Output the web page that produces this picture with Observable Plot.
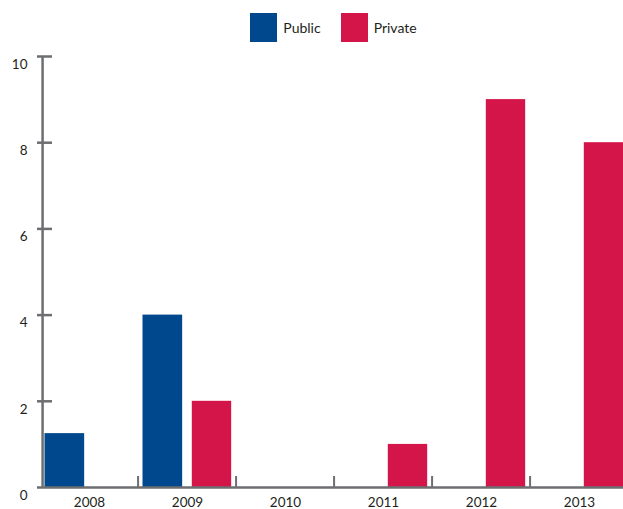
<!DOCTYPE html>
<html>
<head>
<meta charset="utf-8">
<script src="https://cdn.jsdelivr.net/npm/d3@7"></script>
<script src="https://cdn.jsdelivr.net/npm/@observablehq/plot@0.6"></script>
<style>
  html, body { margin: 0; padding: 0; background: #fff; overflow: hidden; }
  body { font-family: "Lato", "Noto Sans", sans-serif; color: #231f20; }
  #legend {
    display: flex; justify-content: center; align-items: flex-start;
    height: 48px; margin-left: 37px; width: 593px;
    box-sizing: border-box; padding-top: 13px; font-size: 14px;
  }
  .item { display: flex; align-items: center; margin: 0 10px; }
  .sw { width: 27px; height: 29px; margin-right: 6px; }
  #chart svg { max-width: none !important; display: block; }
</style>
</head>
<body>
<div id="legend"></div>
<div id="chart"></div>
<script>
// Number of institutions by year, split by type
const years = ["2008", "2009", "2010", "2011", "2012", "2013"];
const publicValues = [1.25, 4, 0, 0, 0, 0];
const privateValues = [0, 2, 0, 1, 9, 8];
const seriesNames = ["Public", "Private"];
const seriesColors = ["#00488d", "#d4154a"];
const yTicks = [0, 2, 4, 6, 8, 10];

const axisColor = "#6d6e71";
const width = 630, height = 461;
const marginLeft = 37, marginRight = 0, marginTop = 8, marginBottom = 22;
const frameW = width - marginLeft - marginRight;
const frameH = height - marginTop - marginBottom;
const step = frameW / years.length;

const rows = (values) => years.map((year, i) => ({year, value: values[i]})).filter(d => d.value > 0);
const publicRows = rows(publicValues);
const privateRows = rows(privateValues);

// legend
const legend = document.getElementById("legend");
seriesNames.forEach((name, i) => {
  const item = document.createElement("div");
  item.className = "item";
  const sw = document.createElement("div");
  sw.className = "sw";
  sw.style.background = seriesColors[i];
  const label = document.createElement("span");
  label.textContent = name;
  item.append(sw, label);
  legend.append(item);
});

const chart = Plot.plot({
  width, height, marginLeft, marginRight, marginTop, marginBottom,
  style: {fontFamily: "Lato, 'Noto Sans', sans-serif", fontSize: "13.5px", color: "#231f20", overflow: "visible", maxWidth: "none"},
  x: {type: "band", domain: years, padding: 0, label: null},
  y: {domain: [0, 10], label: null},
  marks: [
    Plot.barY(publicRows, {x: "year", y: "value", fill: seriesColors[0], insetLeft: 4.5, insetRight: step - 45}),
    Plot.barY(privateRows, {x: "year", y: "value", fill: seriesColors[1], insetLeft: 53.8, insetRight: step - 94}),
    // baseline and vertical axis line
    Plot.ruleY([0], {stroke: axisColor, strokeWidth: 2.5}),
    Plot.ruleX([years[0]], {y1: 0, y2: 10, dx: -step / 2 + 2.5, stroke: axisColor, strokeWidth: 2.5}),
    // short y ticks pointing into the plot
    Plot.ruleY(yTicks.slice(1), {insetRight: frameW - 15, stroke: axisColor, strokeWidth: 2.5}),
    // short separators between the year groups
    Plot.ruleX(years.slice(1), {dx: -step / 2, insetTop: frameH - 11, stroke: axisColor, strokeWidth: 2}),
    Plot.axisY(yTicks, {tickSize: 0, tickPadding: 10, dy: 8, fill: "#231f20"}),
    Plot.axisX({tickSize: 0, tickPadding: 10, fill: "#231f20"})
  ]
});
document.getElementById("chart").append(chart);
</script>
</body>
</html>
